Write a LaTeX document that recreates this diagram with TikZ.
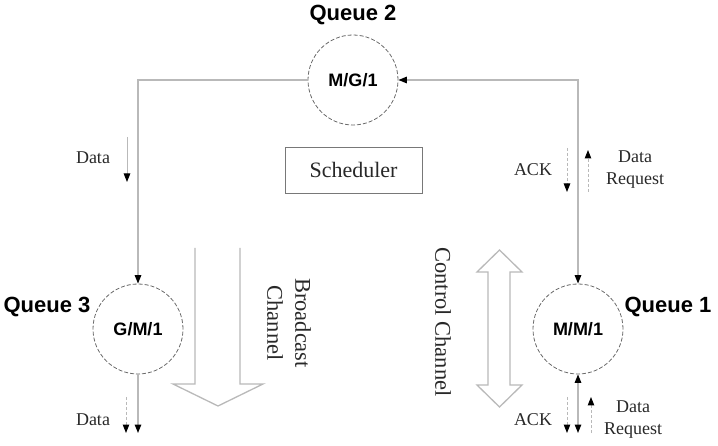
\documentclass[tikz,border=0pt]{standalone}
\usepackage{fontspec}
\setmainfont{Liberation Serif}
\setsansfont{Liberation Sans}
\definecolor{LineGray} {RGB}{185, 185, 185}
\definecolor{RingGray} {RGB}{105, 105, 105}
\definecolor{BoxGray}  {RGB}{120, 120, 120}
\definecolor{TextGray} {RGB}{40,  40,  40}
\usetikzlibrary{
  arrows.meta
}

\begin{document}
\begin{tikzpicture}[
  x=1pt, y=-1pt,
  queue/.style={
    circle, draw=RingGray,
    dash pattern=on 4pt off 2pt,
    line width=0.8pt,
    minimum size=90pt, inner sep=0pt,
    font=\sffamily\bfseries\fontsize{18}{20}\selectfont
  },
  qlabel/.style={
    font=\sffamily\bfseries\fontsize{22}{24}\selectfont},
  note/.style={
    font=\fontsize{18}{22}\selectfont,
    align=center, text=TextGray},
  chan/.style={
    font=\fontsize{22.5}{28}\selectfont,
    text=TextGray},
  link/.style={
    draw=LineGray, line width=1.4pt},
  thinlink/.style={
    draw=LineGray, line width=1pt},
  dlink/.style={
    draw=LineGray, line width=1pt,
    dash pattern=on 3pt off 2pt},
  tohead/.style={
    -{Triangle[length=8.5pt,width=6.5pt,color=black]}},
  bothhead/.style={
    {Triangle[length=8.5pt,width=6.5pt,color=black]}-{Triangle[length=8.5pt,width=6.5pt,color=black]}},
  hollow/.style={
    draw=LineGray, line width=1.3pt,
    line join=miter}
]
\useasboundingbox (0,0) rectangle (718,446);

\node[queue] (mg1) at (353,80) {M/G/1};
\node[queue] (gm1) at (138,329) {G/M/1};
\node[queue] (mm1) at (578,329) {M/M/1};

\node[qlabel] (q2) at (353,15) {Queue 2};
\node[qlabel] (q3) at (47,307) {Queue 3};
\node[qlabel] (q1) at (668,307) {Queue 1};

\node[draw=BoxGray, line width=0.8pt,
  minimum width=137pt, minimum height=46pt,
  font=\fontsize{22}{24}\selectfont, text=TextGray]
  (sched) at (353.5,170) {Scheduler};

\draw[hollow] (195,248) -- (195,384) -- (173,384) -- (218,406)
  -- (263,384) -- (240,384) -- (240,248);
\draw[hollow] (488,272) -- (477,272) -- (499.5,250) -- (522,272)
  -- (510,272) -- (510,385) -- (522,385) -- (499.5,407)
  -- (477,385) -- (488,385) -- cycle;

\node[chan, rotate=-90, align=center] (bcast) at (289,323)
  {Broadcast\\Channel};
\node[chan, rotate=-90] (ctrl) at (443,322) {Control Channel};

\coordinate (dataAtop) at (127,137);
\coordinate (dataAbot) at (127,182);
\coordinate (ackAtop) at (567,148);
\coordinate (ackAbot) at (567,192);
\coordinate (reqAbot) at (588,192);
\coordinate (reqAtop) at (588,150);
\coordinate (gmout) at (138,433);
\coordinate (dataBtop) at (126,397);
\coordinate (dataBbot) at (126,433);
\coordinate (mmout) at (578,433);
\coordinate (ackBtop) at (567,397);
\coordinate (ackBbot) at (567,433);
\coordinate (reqBbot) at (591,433);
\coordinate (reqBtop) at (591,397);

\node[note] (dataA) at (93,158) {Data};
\node[note] (ackA) at (533,170) {ACK};
\node[note] (reqA) at (635,170) {Data\\Request};
\node[note] (dataB) at (93,420) {Data};
\node[note] (ackB) at (533,420) {ACK};
\node[note] (reqB) at (633,420) {Data\\Request};

\draw[link, tohead] (mg1) -| (gm1);
\draw[link, bothhead] (mm1) |- (mg1);
\draw[link, tohead] (gm1) -- (gmout);
\draw[link, bothhead] (mmout) -- (mm1);

\draw[thinlink, tohead] (dataAtop) -- (dataAbot);
\draw[dlink, tohead] (ackAtop) -- (ackAbot);
\draw[dlink, tohead] (reqAbot) -- (reqAtop);
\draw[dlink, tohead] (dataBtop) -- (dataBbot);
\draw[dlink, tohead] (ackBtop) -- (ackBbot);
\draw[dlink, tohead] (reqBbot) -- (reqBtop);
\end{tikzpicture}
\end{document}
